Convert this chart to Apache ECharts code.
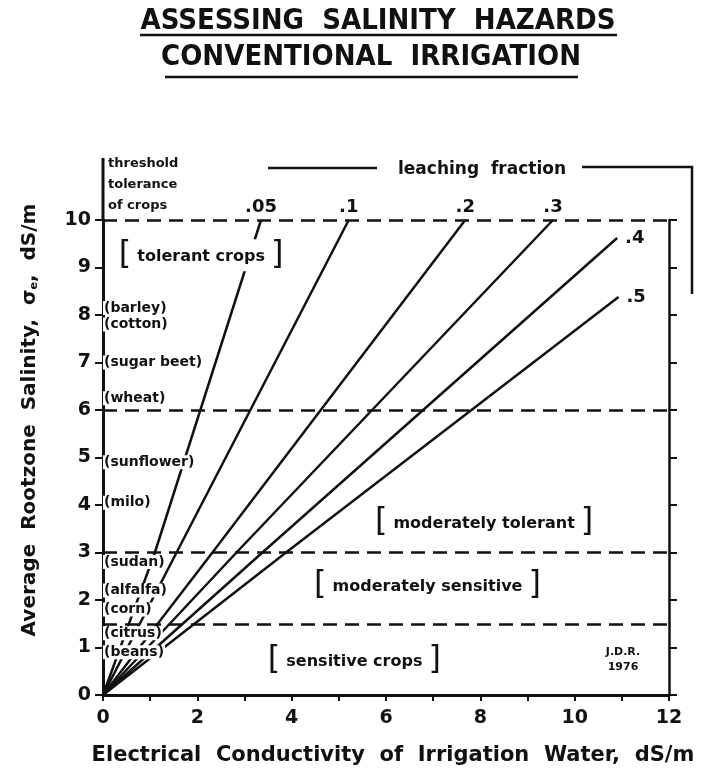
<!DOCTYPE html>
<html>
<head>
<meta charset="utf-8">
<script src="https://cdn.jsdelivr.net/npm/echarts@6/dist/echarts.min.js"></script>
<style>
html, body { margin: 0; padding: 0; background: #fff; }
#main { width: 702px; height: 777px; }
</style>
</head>
<body>
<div id="main"></div>
<script>
// leaching fraction lines
var leachingFractions = ['.05', '.1', '.2', '.3', '.4', '.5'];
var crossAt3 = [1.10, 1.56, 2.32, 2.83, 3.38, 3.88];   // ECw where each line crosses ECe = 3
var endX = [3.35, 5.21, 7.68, 9.54, 10.90, 10.93];
var endY = [10, 10, 10, 10, 9.62, 8.38];

// crop tolerance classes
var classBounds = [1.5, 3, 6, 10];
var classNames = ['sensitive crops', 'moderately sensitive', 'moderately tolerant', 'tolerant crops'];

// threshold tolerance of crops
var crops = ['barley', 'cotton', 'sugar beet', 'wheat', 'sunflower', 'milo', 'sudan', 'alfalfa', 'corn', 'citrus', 'beans'];
var cropY = [8.15, 7.8, 7.0, 6.25, 4.9, 4.05, 2.8, 2.2, 1.8, 1.3, 0.9];

// where the class labels sit (data coords)
var classLabelAt = [[5.33, 0.74], [6.88, 2.32], [8.08, 3.64], [2.08, 9.26]];

var INK = '#111';
var FONT = 'DejaVu Sans';

var myChart = echarts.init(document.getElementById('main'));

var series = [];
leachingFractions.forEach(function (lf, i) {
    var s = {
        name: lf,
        type: 'line',
        symbol: 'none',
        z: 2,
        lineStyle: { color: INK, width: 2.5 },
        data: [[0, 0], [crossAt3[i], 3], [endX[i], endY[i]]]
    };
    if (i === 0) {
        s.markLine = {
            silent: true,
            symbol: 'none',
            label: { show: false },
            lineStyle: { color: INK, width: 2.5, type: [14, 8] },
            data: classBounds.map(function (v) { return { yAxis: v }; })
        };
    }
    series.push(s);
});

// labels at the ends of the lines
series.push({
    type: 'scatter',
    symbolSize: 0,
    z: 5,
    itemStyle: { opacity: 1 },
    data: leachingFractions.map(function (lf, i) {
        return {
            value: [endX[i], endY[i]],
            label: {
                show: true,
                formatter: lf,
                position: i < 4 ? 'top' : 'right',
                distance: i < 4 ? 4 : 8,
                color: INK,
                fontFamily: FONT,
                fontWeight: 'bold',
                fontSize: 18
            }
        };
    })
});

// crop names along the left axis
series.push({
    type: 'scatter',
    symbolSize: 0,
    z: 6,
    itemStyle: { opacity: 1 },
    data: crops.map(function (c, i) { return { value: [0, cropY[i]], name: c }; }),
    label: {
        show: true,
        position: 'right',
        distance: 0,
        formatter: function (p) { return '(' + p.name + ')'; },
        color: INK,
        fontFamily: FONT,
        fontWeight: 'bold',
        fontSize: 14,
        backgroundColor: '#fff',
        padding: [0, 1]
    }
});

// tolerance class labels
series.push({
    type: 'scatter',
    symbolSize: 0,
    z: 6,
    itemStyle: { opacity: 1 },
    data: classNames.map(function (c, i) { return { value: classLabelAt[i], name: c }; }),
    label: {
        show: true,
        position: 'inside',
        formatter: function (p) { return '{b|[}{t|' + p.name + '}{b|]}'; },
        backgroundColor: '#fff',
        padding: [0, 2],
        rich: {
            b: { fontFamily: FONT, fontSize: 32, color: INK, fontWeight: 'normal' },
            t: { fontFamily: FONT, fontSize: 16, color: INK, fontWeight: 'bold', padding: [4, 6, 0, 6] }
        }
    }
});

var boldText = function (size) { return 'bold ' + size + 'px "' + FONT + '"'; };
var titleFont = 'bold 29px "DejaVu Sans Condensed", "Liberation Sans Narrow", sans-serif';

myChart.setOption({
    animation: false,
    backgroundColor: '#fff',
    grid: { left: 103, right: 33, top: 220, bottom: 82 },
    xAxis: {
        type: 'value',
        min: 0,
        max: 12,
        interval: 1,
        splitLine: { show: false },
        axisLine: { lineStyle: { color: INK, width: 3 } },
        axisTick: { length: 6, lineStyle: { color: INK, width: 2 } },
        axisLabel: {
            margin: 14,
            color: INK,
            fontFamily: FONT,
            fontWeight: 'bold',
            fontSize: 19,
            formatter: function (v) { return v % 2 === 0 ? v : ''; }
        },
        name: 'Electrical  Conductivity  of  Irrigation  Water,  dS/m',
        nameLocation: 'middle',
        nameGap: 50,
        nameTextStyle: { color: INK, fontFamily: FONT, fontWeight: 'bold', fontSize: 21, padding: [0, 0, 0, 14] }
    },
    yAxis: [{
        type: 'value',
        position: 'left',
        min: 0,
        max: 10,
        interval: 1,
        splitLine: { show: false },
        axisLine: { show: true, lineStyle: { color: INK, width: 3 } },
        axisTick: { show: true, length: 8, lineStyle: { color: INK, width: 2 } },
        axisLabel: { margin: 12, color: INK, fontFamily: FONT, fontWeight: 'bold', fontSize: 19 }
    }, {
        type: 'value',
        position: 'right',
        min: 0,
        max: 10,
        interval: 1,
        splitLine: { show: false },
        axisLine: { show: true, lineStyle: { color: INK, width: 2.5 } },
        axisTick: { show: true, length: 8, lineStyle: { color: INK, width: 2 } },
        axisLabel: { show: false }
    }],
    graphic: [
        { type: 'text', x: 378, y: 21, style: { text: 'ASSESSING  SALINITY  HAZARDS', font: titleFont, fill: INK, textAlign: 'center', textVerticalAlign: 'middle', align: 'center', verticalAlign: 'middle' } },
        { type: 'line', shape: { x1: 140, y1: 35, x2: 617, y2: 35 }, style: { stroke: INK, lineWidth: 2.5 } },
        { type: 'text', x: 371, y: 57, style: { text: 'CONVENTIONAL  IRRIGATION', font: titleFont, fill: INK, textAlign: 'center', textVerticalAlign: 'middle', align: 'center', verticalAlign: 'middle' } },
        { type: 'line', shape: { x1: 165, y1: 77, x2: 578, y2: 77 }, style: { stroke: INK, lineWidth: 2.5 } },
        // left axis runs on above 10
        { type: 'line', shape: { x1: 103, y1: 221, x2: 103, y2: 158 }, style: { stroke: INK, lineWidth: 3 } },
        { type: 'text', x: 108, y: 153, style: { text: 'threshold\ntolerance\nof crops', font: boldText(13), lineHeight: 21, fill: INK, textVerticalAlign: 'top', verticalAlign: 'top' } },
        { type: 'line', shape: { x1: 268, y1: 168, x2: 377, y2: 168 }, style: { stroke: INK, lineWidth: 2.5 } },
        { type: 'text', x: 482, y: 170, style: { text: 'leaching  fraction', font: boldText(17), fill: INK, textAlign: 'center', textVerticalAlign: 'middle', align: 'center', verticalAlign: 'middle' } },
        { type: 'polyline', shape: { points: [[582, 167], [692, 167], [692, 294]] }, style: { stroke: INK, lineWidth: 2.5, fill: null } },
        { type: 'text', x: 623, y: 660, style: { text: 'J.D.R.\n1976', font: boldText(11), lineHeight: 15, fill: INK, textAlign: 'center', textVerticalAlign: 'middle', align: 'center', verticalAlign: 'middle' } },
        {
            type: 'text', x: 30, y: 420, rotation: Math.PI / 2,
            style: {
                text: 'Average  Rootzone  Salinity,  σ{s|e},  dS/m',
                font: boldText(20), fill: INK,
                textAlign: 'center', textVerticalAlign: 'middle', align: 'center', verticalAlign: 'middle',
                rich: { s: { font: boldText(11), padding: [9, 0, 0, 0] } }
            }
        }
    ],
    series: series
});
</script>
</body>
</html>
